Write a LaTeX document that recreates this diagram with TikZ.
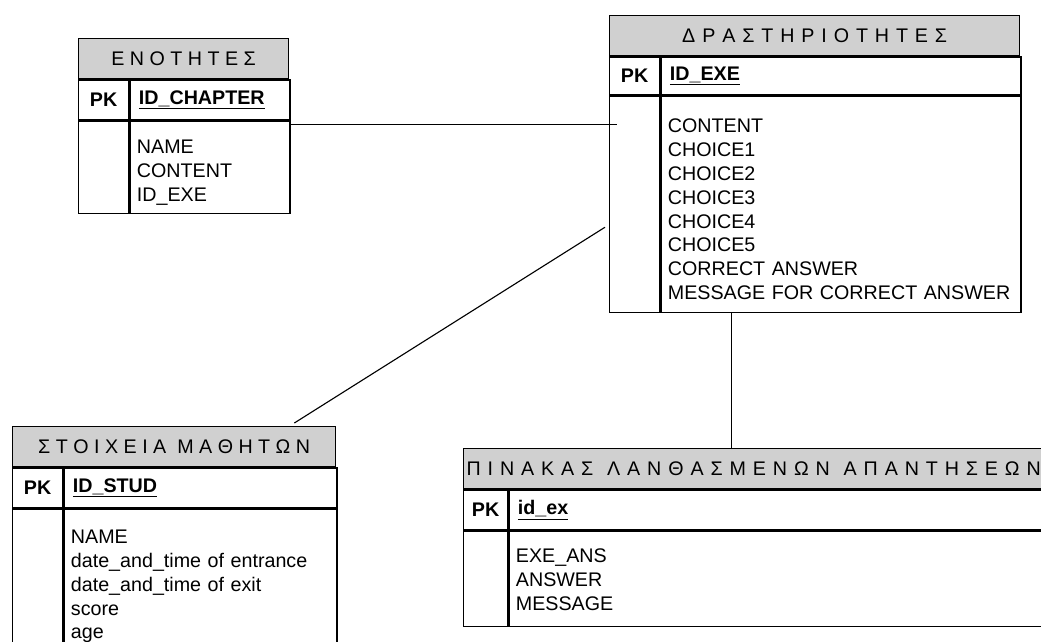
\documentclass[tikz,border=0pt]{standalone}
\usepackage{fontspec}
\setmainfont{Liberation Sans}
\definecolor{hdrgray}{RGB}{208,208,208}

\begin{document}
\begin{tikzpicture}[
    x=0.025cm, y=-0.025cm,
    font=\fontsize{14pt}{17pt}\selectfont,
    attrlift/.initial=17pt,
    cell/.style={draw, line width=0.9pt, anchor=north west, minimum height=1cm, inner sep=0pt},
    tblhead/.style={cell, fill=hdrgray, minimum width=#1},
    wide/.style={font={\fontsize{14pt}{17pt}\selectfont\spaceskip=4.9pt\relax}},
    pkcell/.style={cell, minimum width=1.25cm, font=\fontsize{14pt}{17pt}\selectfont\bfseries},
    keycell/.style={cell, text width=#1, align=left, inner xsep=0.225cm, font=\fontsize{14pt}{17pt}\selectfont\bfseries},
    fkcell/.style={cell, minimum width=1.25cm, minimum height=#1},
    attrcell/.style 2 args={cell, text width=#1, minimum height=#2, align=left, inner xsep=0.175cm,
      execute at begin node={\rule{0pt}{\pgfkeysvalueof{/tikz/attrlift}}}},
    link/.style={draw, line width=0.8pt}
  ]
    \useasboundingbox (0,0) rectangle (1041,641);
    \clip (0,0) rectangle (1041,641);

    % chapters
    \node[tblhead=5.25cm] (ch-head) at (78,38) {Ε Ν Ο Τ Η Τ Ε Σ};
    \node[pkcell] (ch-pk) at (ch-head.south west) {PK};
    \node[keycell=3.55cm] (ch-key) at (ch-pk.north east) {\underline{ID\_CHAPTER}};
    \node[fkcell=2.3cm] (ch-fk) at (ch-pk.south west) {};
    \node[attrcell={3.65cm}{2.3cm}] (ch-attr) at (ch-fk.north east) {NAME\\CONTENT\\ID\_EXE};

    % exercises
    \node[tblhead=10.25cm, wide] (ex-head) at (609,15) {Δ Ρ Α Σ Τ Η Ρ Ι Ο Τ Η Τ Ε Σ};
    \node[pkcell, minimum height=0.95cm] (ex-pk) at (ex-head.south west) {PK};
    \node[keycell=8.55cm, minimum height=0.95cm] (ex-key) at (ex-pk.north east) {\underline{ID\_EXE}};
    \node[fkcell=5.4cm] (ex-fk) at (ex-pk.south west) {};
    \node[attrcell={8.65cm}{5.4cm}] (ex-attr) at (ex-fk.north east)
      {CONTENT\\CHOICE1\\CHOICE2\\CHOICE3\\CHOICE4\\CHOICE5\\CORRECT ANSWER\\MESSAGE FOR CORRECT ANSWER};

    % students
    \node[tblhead=8.075cm] (st-head) at (12,426) {Σ Τ Ο Ι Χ Ε Ι Α\ \ Μ Α Θ Η Τ Ω Ν};
    \node[pkcell] (st-pk) at (st-head.south west) {PK};
    \node[keycell=6.375cm] (st-key) at (st-pk.north east) {\underline{ID\_STUD}};
    \node[fkcell=3.6cm] (st-fk) at (st-pk.south west) {};
    \node[attrcell={6.475cm}{3.6cm}] (st-attr) at (st-fk.north east)
      {NAME\\date\_and\_time of entrance\\date\_and\_time of exit\\score\\age};

    % wrong answers
    \node[tblhead=14.5cm, wide] (wa-head) at (463,448) {Π Ι Ν Α Κ Α Σ\ \ Λ Α Ν Θ Α Σ Μ Ε Ν Ω Ν\ \ Α Π Α Ν Τ Η Σ Ε Ω Ν};
    \node[pkcell, minimum width=1.1cm] (wa-pk) at (wa-head.south west) {PK};
    \node[keycell=12.95cm] (wa-key) at (wa-pk.north east) {\underline{id\_ex}};
    \node[fkcell=2.375cm, minimum width=1.1cm] (wa-fk) at (wa-pk.south west) {};
    \node[attrlift=11pt, attrcell={13.05cm}{2.375cm}] (wa-attr) at (wa-fk.north east)
      {EXE\_ANS\\ANSWER\\MESSAGE};

    % relations
    \coordinate (ch-out) at ([yshift=-0.1cm]ch-attr.north east);
    \draw[link] (ch-out) -- ([xshift=0.2cm]ch-out -| ex-fk.west);
    \draw[link] ([shift={(-0.1cm,-0.575cm)}]ex-fk.west) -- ([shift={(-1.05cm,0.075cm)}]st-head.north east);
    \coordinate (ex-down) at ([xshift=1.775cm]ex-attr.south west);
    \draw[link] (ex-down) -- (ex-down |- wa-head.north);
  \end{tikzpicture}
\end{document}
